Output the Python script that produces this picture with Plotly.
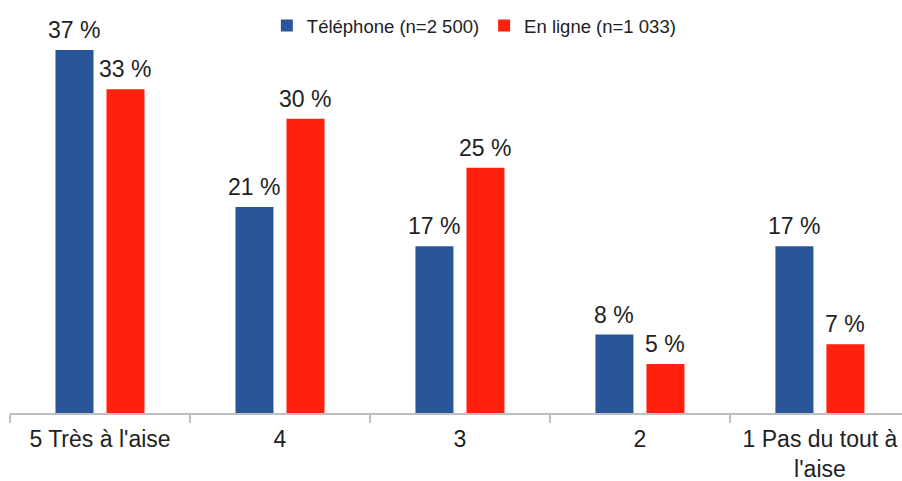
import plotly.graph_objects as go

categories = ["5 Très à l'aise", "4", "3", "2", "1 Pas du tout à<br>l'aise"]
telephone = [37, 21, 17, 8, 17]
en_ligne = [33, 30, 25, 5, 7]
series_names = ["Téléphone (n=2 500)", "En ligne (n=1 033)"]

BLUE = "#2b5599"
RED = "#ff200d"
TEXT = "#222222"
FONT = "Liberation Sans"

fig = go.Figure()
series = [(series_names[0], telephone, BLUE, -25.5), (series_names[1], en_ligne, RED, 25.5)]
for name, vals, col, shift in series:
    fig.add_trace(go.Bar(
        x=categories, y=vals, name=name, marker=dict(color=col, line=dict(width=0)),
    ))
    # value labels above each bar (x given as category index)
    for i, v in enumerate(vals):
        fig.add_annotation(
            x=i, y=v, xref="x", yref="y", text=f"{v} %", showarrow=False,
            xshift=shift, yshift=5, yanchor="bottom", xanchor="center",
            font=dict(size=23, color=TEXT, family=FONT),
        )

fig.update_layout(
    width=902, height=481,
    margin=dict(l=10, r=0, t=5, b=68),
    paper_bgcolor="white", plot_bgcolor="white",
    barmode="group", bargap=0.433, bargroupgap=0.255,
    font=dict(family=FONT, color=TEXT),
    legend=dict(orientation="h", x=0.52, xanchor="center", y=0.995, yanchor="top",
                font=dict(size=18.5, color=TEXT, family=FONT),
                itemwidth=30, traceorder="normal", bgcolor="rgba(0,0,0,0)"),
    showlegend=True,
)
fig.update_xaxes(
    range=[-0.5, 4.456], showline=True, linecolor="#bfbfbf", linewidth=1.5,
    ticks="outside", tickson="boundaries", ticklen=8, tickcolor="#bfbfbf", tickwidth=1.5,
    ticklabelstandoff=5, automargin=False,
    tickfont=dict(size=23, color=TEXT, family=FONT), showgrid=False,
)
fig.update_yaxes(range=[0, 41.6], visible=False, showgrid=False)

fig.write_html("out.html")
